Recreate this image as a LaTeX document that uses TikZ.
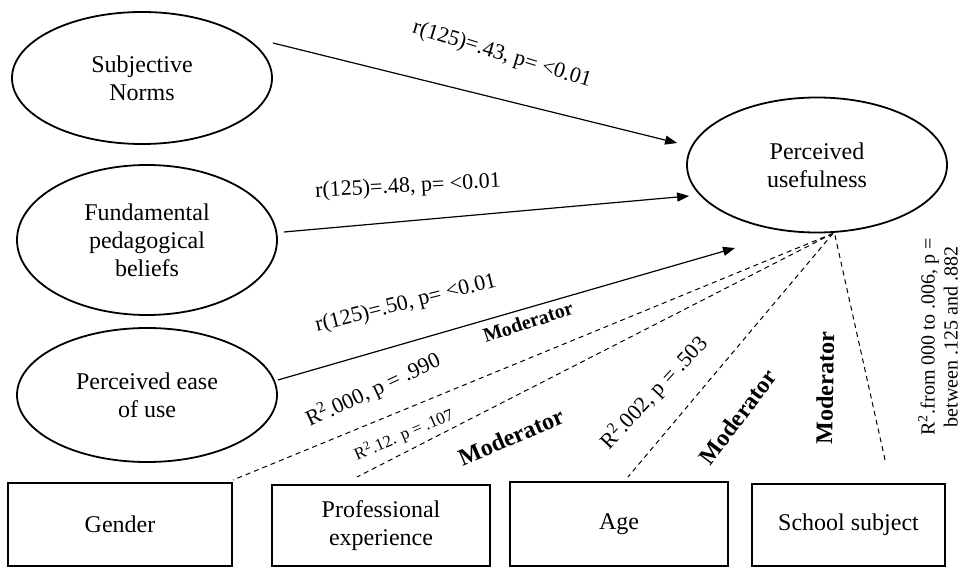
\documentclass[tikz,border=0pt]{standalone}
\usepackage{fontspec}
\setmainfont{Liberation Serif}
\usetikzlibrary{shapes.geometric,arrows.meta}
\begin{document}
\begin{tikzpicture}[x=0.5pt,y=-0.5pt,
  oval/.style={draw,ellipse,line width=0.9pt,inner sep=0pt,align=center,font=\fontsize{12}{14}\selectfont},
  modbox/.style={draw,rectangle,line width=1pt,inner sep=0pt,align=center,font=\fontsize{12}{14}\selectfont},
  arr/.style={line width=0.6pt,-{Triangle[length=6pt,width=4.5pt]}},
  dline/.style={line width=0.5pt,dash pattern=on 2.5pt off 2pt},
  lab/.style={font=\fontsize{11}{13}\selectfont,inner sep=0pt},
  mod/.style={font=\bfseries\fontsize{12}{14}\selectfont,inner sep=0pt}]
\useasboundingbox (0,0) rectangle (964,567);
% ellipses
\node[oval,minimum width=130pt,minimum height=66pt] (e1) at (142,78) {Subjective\\Norms};
\node[oval,minimum width=130pt,minimum height=75pt] (e2) at (147,240) {Fundamental\\pedagogical\\beliefs};
\node[oval,minimum width=130pt,minimum height=67pt] (e3) at (147,395) {Perceived ease\\of use};
\node[oval,minimum width=130pt,minimum height=67.5pt] (e4) at (817,165) {Perceived\\usefulness};
% boxes
\node[modbox,minimum width=112pt,minimum height=41.5pt] (b1) at (120,524.5) {Gender};
\node[modbox,minimum width=109pt,minimum height=40.5pt] (b2) at (381,525.5) {Professional\\experience};
\node[modbox,minimum width=109pt,minimum height=42pt] (b3) at (619,524) {Age};
\node[modbox,minimum width=96.5pt,minimum height=41pt] (b4) at (848.5,525) {School subject};
% arrow coordinates
\coordinate (s1) at ([shift={(0,-35)}]e1.east);
\coordinate (t1) at ([shift={(-9,-22)}]e4.west);
\coordinate (s2) at ([shift={(6,-8)}]e2.east);
\coordinate (t2) at ([shift={(3,31)}]e4.west);
\coordinate (s3) at ([shift={(0,-15)}]e3.east);
\coordinate (t3) at ([shift={(-82,83)}]e4.center);
\draw[arr] (s1) -- (t1);
\draw[arr] (s2) -- (t2);
\draw[arr] (s3) -- (t3);
% dashed moderator lines
\coordinate (d0) at ([shift={(16,0)}]e4.south);
\coordinate (d1) at ([shift={(0,-2)}]b1.north east);
\coordinate (d2) at ([shift={(-24,-7)}]b2.north);
\coordinate (d3) at ([shift={(9,-4)}]b3.north);
\coordinate (d4) at ([shift={(37,-21)}]b4.north);
\draw[dline] (d0) -- (d1);
\draw[dline] (d0) -- (d2);
\draw[dline] (d0) -- (d3);
\draw[dline] ([shift={(2,2)}]d0) -- (d4);
% labels
\node[lab,rotate=-17] (l1) at (502,55) {r(125)=.43, p= <0.01};
\node[lab,rotate=3] (l2) at (408,187) {r(125)=.48, p= <0.01};
\node[lab,rotate=14] (l3) at (406,304) {r(125)=.50, p= <0.01};
\node[mod,font=\bfseries\fontsize{10}{12}\selectfont,rotate=18] (m1) at (528,322) {Moderator};
\node[lab,rotate=25] (r1) at (373,390) {R\textsuperscript{2}.000, p = .990};
\node[lab,font=\fontsize{8.5}{10}\selectfont,rotate=23] (r2) at (404,435) {R\textsuperscript{2}.12. p = .107};
\node[mod,rotate=23] (m2) at (511,437) {Moderator};
\node[lab,rotate=47] (r3) at (654,393) {R\textsuperscript{2}.002, p = .503};
\node[mod,rotate=53] (m3) at (738,417) {Moderator};
\node[mod,rotate=89] (m4) at (825,388) {Moderator};
\node[lab,font=\fontsize{10}{11.5}\selectfont,rotate=90,align=center] (r4) at (938,337) {R\textsuperscript{2}.from 000 to .006, p =\\between .125 and .882};
\end{tikzpicture}
\end{document}
